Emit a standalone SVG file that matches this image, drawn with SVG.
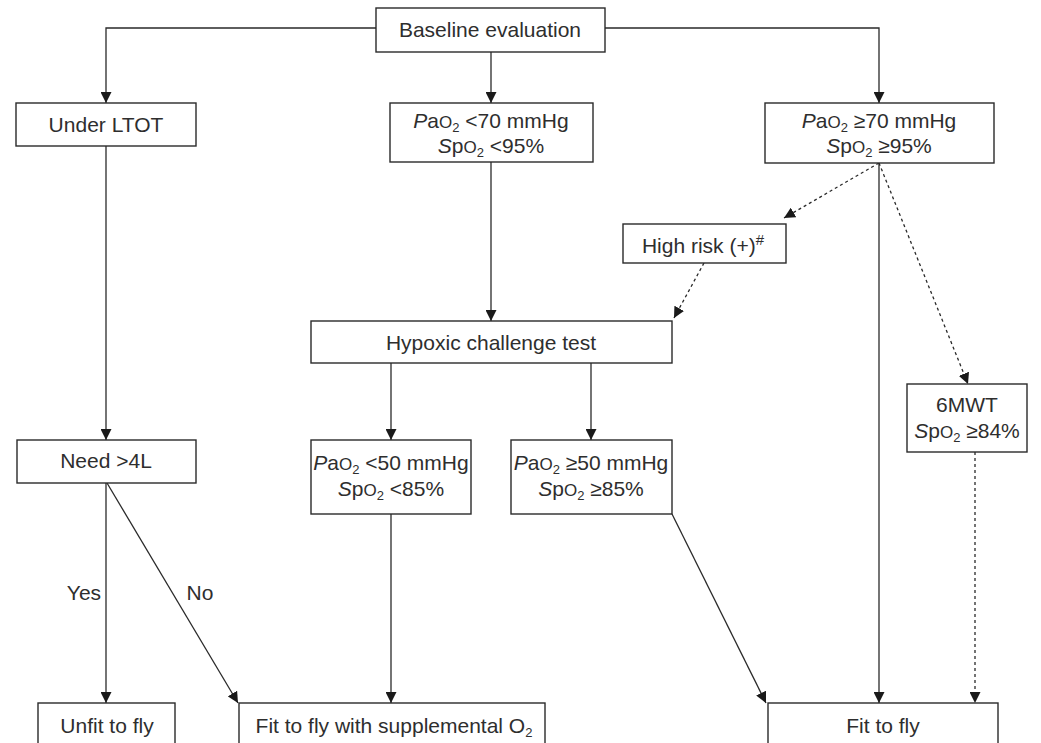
<svg xmlns="http://www.w3.org/2000/svg" width="1041" height="743" viewBox="0 0 1041 743">
<style>
.box{fill:#fff;stroke:#2a2a2a;stroke-width:1.4}
.t{font-family:"Liberation Sans",Arial,sans-serif;font-size:21px;fill:#2e2e2e;text-anchor:middle}
.s{font-size:13px}
.o{font-size:17px}
.i{font-style:italic}
.ln{fill:none;stroke:#2a2a2a;stroke-width:1.3}
.dt{fill:none;stroke:#2a2a2a;stroke-width:1.3;stroke-dasharray:3 3}
</style>
<defs>
<marker id="ah" markerUnits="userSpaceOnUse" viewBox="0 0 10 10" refX="10" refY="5" markerWidth="11" markerHeight="11" orient="auto">
<path d="M0,0 L10,5 L0,10 z" fill="#1a1a1a"/>
</marker>
</defs>
<rect width="1041" height="743" fill="#fff"/>
<g id="connectors">
<polyline class="ln" points="376,28 106,28 106,103" marker-end="url(#ah)"/>
<polyline class="ln" points="605,28 879,28 879,103" marker-end="url(#ah)"/>
<line class="ln" x1="491" y1="52" x2="491" y2="103" marker-end="url(#ah)"/>
<line class="ln" x1="491" y1="162" x2="491" y2="321" marker-end="url(#ah)"/>
<line class="ln" x1="106" y1="146" x2="106" y2="440" marker-end="url(#ah)"/>
<line class="ln" x1="391" y1="363" x2="391" y2="440" marker-end="url(#ah)"/>
<line class="ln" x1="591" y1="363" x2="591" y2="440" marker-end="url(#ah)"/>
<line class="ln" x1="106" y1="483" x2="106" y2="703" marker-end="url(#ah)"/>
<line class="ln" x1="107" y1="483" x2="238" y2="703" marker-end="url(#ah)"/>
<line class="ln" x1="391" y1="514" x2="391" y2="703" marker-end="url(#ah)"/>
<line class="ln" x1="672" y1="514" x2="766" y2="703" marker-end="url(#ah)"/>
<line class="ln" x1="879" y1="163" x2="879" y2="703" marker-end="url(#ah)"/>
<line class="dt" x1="879" y1="163" x2="784" y2="218" marker-end="url(#ah)"/>
<line class="dt" x1="704" y1="263" x2="674" y2="318" marker-end="url(#ah)"/>
<line class="dt" x1="879" y1="163" x2="968" y2="384" marker-end="url(#ah)"/>
<line class="dt" x1="975" y1="452" x2="975" y2="703" marker-end="url(#ah)"/>
<text class="t" x="84" y="600">Yes</text>
<text class="t" x="200" y="600">No</text>
</g>
<g id="baseline">
<rect class="box" x="376" y="8" width="229" height="44"/>
<text class="t" x="490" y="37">Baseline evaluation</text>
</g>
<g id="ltot">
<rect class="box" x="16" y="103" width="180" height="43"/>
<text class="t" x="106" y="132">Under LTOT</text>
</g>
<g id="pao2-lt70">
<rect class="box" x="390" y="103" width="203" height="59"/>
<text class="t" x="491" y="128"><tspan class="i">P</tspan>a<tspan class="o">O</tspan><tspan class="s" dy="4">2</tspan><tspan dy="-4"> &lt;70 mmHg</tspan></text>
<text class="t" x="491" y="153"><tspan class="i">S</tspan>p<tspan class="o">O</tspan><tspan class="s" dy="4">2</tspan><tspan dy="-4"> &lt;95%</tspan></text>
</g>
<g id="pao2-ge70">
<rect class="box" x="765" y="103" width="229" height="60"/>
<text class="t" x="879" y="128"><tspan class="i">P</tspan>a<tspan class="o">O</tspan><tspan class="s" dy="4">2</tspan><tspan dy="-4"> ≥70 mmHg</tspan></text>
<text class="t" x="879" y="153"><tspan class="i">S</tspan>p<tspan class="o">O</tspan><tspan class="s" dy="4">2</tspan><tspan dy="-4"> ≥95%</tspan></text>
</g>
<g id="highrisk">
<rect class="box" x="623" y="224" width="163" height="39"/>
<text class="t" x="703" y="253">High risk (+)<tspan style="font-size:15px" dy="-8">#</tspan></text>
</g>
<g id="hypoxic">
<rect class="box" x="311" y="321" width="361" height="42"/>
<text class="t" x="491" y="350">Hypoxic challenge test</text>
</g>
<g id="need4l">
<rect class="box" x="17" y="440" width="179" height="43"/>
<text class="t" x="106" y="468">Need &gt;4L</text>
</g>
<g id="pao2-lt50">
<rect class="box" x="311" y="440" width="160" height="74"/>
<text class="t" x="391" y="470"><tspan class="i">P</tspan>a<tspan class="o">O</tspan><tspan class="s" dy="4">2</tspan><tspan dy="-4"> &lt;50 mmHg</tspan></text>
<text class="t" x="391" y="496"><tspan class="i">S</tspan>p<tspan class="o">O</tspan><tspan class="s" dy="4">2</tspan><tspan dy="-4"> &lt;85%</tspan></text>
</g>
<g id="pao2-ge50">
<rect class="box" x="511" y="440" width="161" height="74"/>
<text class="t" x="591" y="470"><tspan class="i">P</tspan>a<tspan class="o">O</tspan><tspan class="s" dy="4">2</tspan><tspan dy="-4"> ≥50 mmHg</tspan></text>
<text class="t" x="591" y="496"><tspan class="i">S</tspan>p<tspan class="o">O</tspan><tspan class="s" dy="4">2</tspan><tspan dy="-4"> ≥85%</tspan></text>
</g>
<g id="sixmwt">
<rect class="box" x="907" y="384" width="120" height="68"/>
<text class="t" x="967" y="412">6MWT</text>
<text class="t" x="967" y="438"><tspan class="i">S</tspan>p<tspan class="o">O</tspan><tspan class="s" dy="4">2</tspan><tspan dy="-4"> ≥84%</tspan></text>
</g>
<g id="unfit">
<rect class="box" x="38" y="703" width="137" height="60"/>
<text class="t" x="107" y="733">Unfit to fly</text>
</g>
<g id="fito2">
<rect class="box" x="239" y="703" width="306" height="60"/>
<text class="t" x="394" y="733">Fit to fly with supplemental O<tspan class="s" dy="4">2</tspan></text>
</g>
<g id="fit">
<rect class="box" x="768" y="703" width="230" height="60"/>
<text class="t" x="883" y="733">Fit to fly</text>
</g>
</svg>
